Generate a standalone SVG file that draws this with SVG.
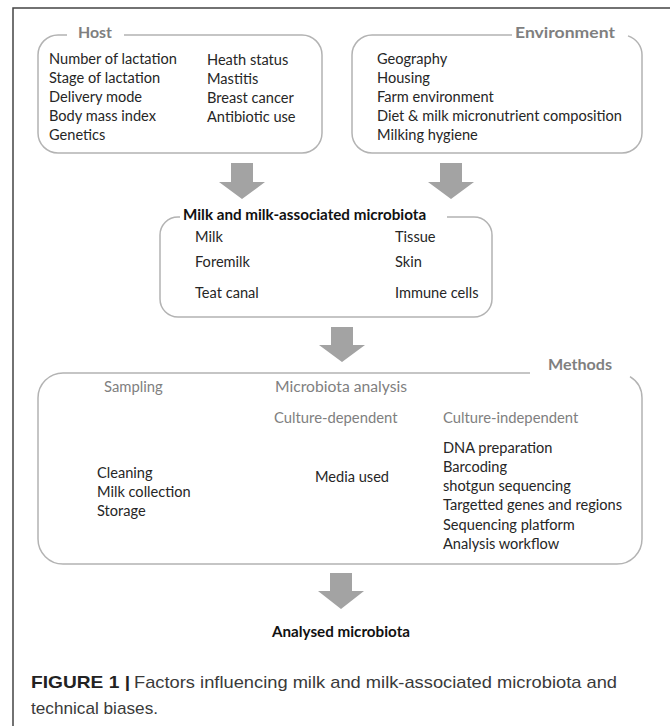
<svg xmlns="http://www.w3.org/2000/svg" width="670" height="726" viewBox="0 0 670 726">
<style>
.box{fill:none;stroke:#b3b3b3;stroke-width:1.5}
.arrow{fill:#a3a3a3}
.t{font-family:Lato,"Open Sans","Liberation Sans",sans-serif;font-size:14.6px;fill:#262626}
.g{font-family:Lato,"Open Sans","Liberation Sans",sans-serif;font-size:14.8px;fill:#808080}
.hd{font-family:Lato,"Open Sans","Liberation Sans",sans-serif;font-size:15px;font-weight:bold;fill:#7f7f7f}
.b{font-family:Lato,"Open Sans","Liberation Sans",sans-serif;font-size:15.2px;font-weight:bold;fill:#111}
.cap{font-family:"Liberation Sans",Arial,sans-serif;font-size:17px;fill:#3a3a3a}
.capb{font-family:"Liberation Sans",Arial,sans-serif;font-size:17px;font-weight:bold;fill:#222}
</style>
<rect width="670" height="726" fill="#fff"/>
<path d="M13 726 V8 H670" fill="none" stroke="#444" stroke-width="1.5"/>

<g id="host">
<path class="box" d="M67 35 H58 A20 20 0 0 0 38 55 V133 A20 20 0 0 0 58 153 H302 A20 20 0 0 0 322 133 V55 A20 20 0 0 0 302 35 H124"/>
<text class="hd" x="78" y="38" textLength="34" lengthAdjust="spacingAndGlyphs">Host</text>
<text class="t" x="49" y="64">Number of lactation</text>
<text class="t" x="49" y="83">Stage of lactation</text>
<text class="t" x="49" y="102">Delivery mode</text>
<text class="t" x="49" y="121">Body mass index</text>
<text class="t" x="49" y="140">Genetics</text>
<text class="t" x="207" y="64.5">Heath status</text>
<text class="t" x="207" y="83.5">Mastitis</text>
<text class="t" x="207" y="102.5">Breast cancer</text>
<text class="t" x="207" y="121.5">Antibiotic use</text>
</g>

<g id="environment">
<path class="box" d="M512 35 H372 A20 20 0 0 0 352 55 V133 A20 20 0 0 0 372 153 H622 A20 20 0 0 0 642 133 V55 A20 20 0 0 0 628 35.9"/>
<text class="hd" x="515" y="38" textLength="100" lengthAdjust="spacingAndGlyphs">Environment</text>
<text class="t" x="377" y="64">Geography</text>
<text class="t" x="377" y="83">Housing</text>
<text class="t" x="377" y="102">Farm environment</text>
<text class="t" x="377" y="121">Diet &amp; milk micronutrient composition</text>
<text class="t" x="377" y="140">Milking hygiene</text>
</g>

<g id="milk">
<path class="box" d="M180 217 H178 A18 18 0 0 0 160 235 V299 A18 18 0 0 0 178 317 H474 A18 18 0 0 0 492 299 V235 A18 18 0 0 0 474 217 H447"/>
<text class="b" x="183" y="220">Milk and milk-associated microbiota</text>
<text class="t" x="195" y="242">Milk</text>
<text class="t" x="195" y="267">Foremilk</text>
<text class="t" x="195" y="298">Teat canal</text>
<text class="t" x="395" y="242">Tissue</text>
<text class="t" x="395" y="267">Skin</text>
<text class="t" x="395" y="298">Immune cells</text>
</g>

<g id="methods">
<path class="box" d="M530 373 H63 A25 25 0 0 0 38 398 V539 A25 25 0 0 0 63 564 H617 A25 25 0 0 0 642 539 V398 A25 25 0 0 0 630 376.7"/>
<text class="hd" x="548" y="370" textLength="64" lengthAdjust="spacingAndGlyphs">Methods</text>
<text class="g" x="104" y="392">Sampling</text>
<text class="g" x="275" y="392" textLength="132" lengthAdjust="spacingAndGlyphs">Microbiota analysis</text>
<text class="g" x="274" y="423">Culture-dependent</text>
<text class="g" x="443" y="423">Culture-independent</text>
<text class="t" x="97" y="478">Cleaning</text>
<text class="t" x="97" y="497">Milk collection</text>
<text class="t" x="97" y="516">Storage</text>
<text class="t" x="315" y="482">Media used</text>
<text class="t" x="443" y="453">DNA preparation</text>
<text class="t" x="443" y="472">Barcoding</text>
<text class="t" x="443" y="491">shotgun sequencing</text>
<text class="t" x="443" y="510">Targetted genes and regions</text>
<text class="t" x="443" y="530">Sequencing platform</text>
<text class="t" x="443" y="549">Analysis workflow</text>
</g>

<g id="analysed">
<text class="b" x="341" y="637" text-anchor="middle">Analysed microbiota</text>
</g>

<g id="connectors">
<path class="arrow" d="M231 163 H253 V182 H265 L242 199 L219 182 H231 Z"/>
<path class="arrow" d="M440 163 H462 V182 H474 L451 199 L428 182 H440 Z"/>
<path class="arrow" d="M331 327 H353 V345 H365 L342 362 L319 345 H331 Z"/>
<path class="arrow" d="M330 573 H352 V591 H364 L341 609 L318 591 H330 Z"/>
</g>

<g id="caption">
<text class="capb" x="31" y="688" textLength="99" lengthAdjust="spacingAndGlyphs">FIGURE 1 |</text>
<text class="cap" x="134" y="688" textLength="483" lengthAdjust="spacingAndGlyphs">Factors influencing milk and milk-associated microbiota and</text>
<text class="cap" x="31" y="714" textLength="127" lengthAdjust="spacingAndGlyphs">technical biases.</text>
</g>
</svg>
